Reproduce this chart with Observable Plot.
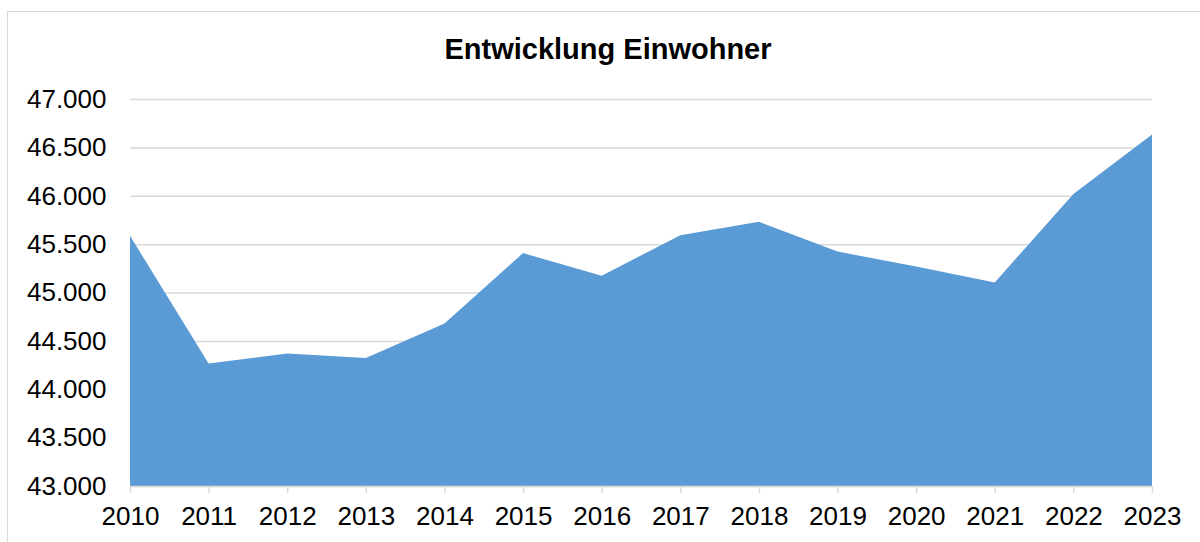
<!DOCTYPE html>
<html>
<head>
<meta charset="utf-8">
<script src="https://cdn.jsdelivr.net/npm/d3@7"></script>
<script src="https://cdn.jsdelivr.net/npm/@observablehq/plot@0.6"></script>
<style>
  html, body { margin: 0; padding: 0; background: #fff; }
  #wrap { position: relative; width: 1200px; height: 542px; overflow: hidden; font-family: "Liberation Sans", Arial, sans-serif; }
  #frame { position: absolute; left: 7px; top: 11px; width: 1210px; height: 560px; border: 1.5px solid #d9d9d9; box-sizing: border-box; }
  #title { position: relative; height: 80px; box-sizing: border-box; padding-top: 35px; padding-left: 16px; line-height: 28px; font-size: 29px; font-weight: bold; text-align: center; color: #000; }
  #chart { position: relative; }
</style>
</head>
<body>
<div id="wrap">
  <div id="frame"></div>
  <div id="title">Entwicklung Einwohner</div>
  <div id="chart"></div>
</div>
<script>
const years = [2010, 2011, 2012, 2013, 2014, 2015, 2016, 2017, 2018, 2019, 2020, 2021, 2022, 2023];
const einwohner = [45586, 44266, 44369, 44324, 44680, 45407, 45173, 45593, 45731, 45423, 45270, 45104, 46018, 46632];
const yTicks = [43000, 43500, 44000, 44500, 45000, 45500, 46000, 46500, 47000];
const yMin = 43000;
const yMax = 47000;

const data = years.map((y, i) => ({year: y, value: einwohner[i]}));
const de = d3.formatLocale({decimal: ",", thousands: ".", grouping: [3], currency: ["", " €"]});
const fmt = de.format(",.0f");

const chart = Plot.plot({
  width: 1200,
  height: 462,
  marginTop: 19,
  marginBottom: 56,
  marginLeft: 130,
  marginRight: 48,
  style: {fontFamily: "Liberation Sans, Arial, sans-serif", fontSize: "26px", color: "#000", background: "transparent"},
  x: {domain: [years[0], years[years.length - 1]], ticks: years, tickFormat: d => String(d)},
  y: {domain: [yMin, yMax], ticks: yTicks, tickFormat: fmt},
  marks: [
    Plot.gridY(yTicks, {stroke: "#d9d9d9", strokeOpacity: 1, strokeWidth: 1.5}),
    Plot.areaY(data, {x: "year", y1: yMin, y2: "value", fill: "#5b9bd5"}),
    Plot.ruleY([yMin], {stroke: "#d9d9d9", strokeWidth: 1.5}),
    Plot.axisY(yTicks, {tickSize: 0, tickPadding: 24, fill: "#000", fontSize: 26, label: null, tickFormat: fmt}),
    Plot.axisX(years, {tickSize: 7, tickPadding: 13, stroke: "#d9d9d9", strokeWidth: 1.5, fill: "#000", fontSize: 26, label: null, tickFormat: d => String(d)})
  ]
});
document.getElementById("chart").appendChild(chart);
</script>
</body>
</html>
